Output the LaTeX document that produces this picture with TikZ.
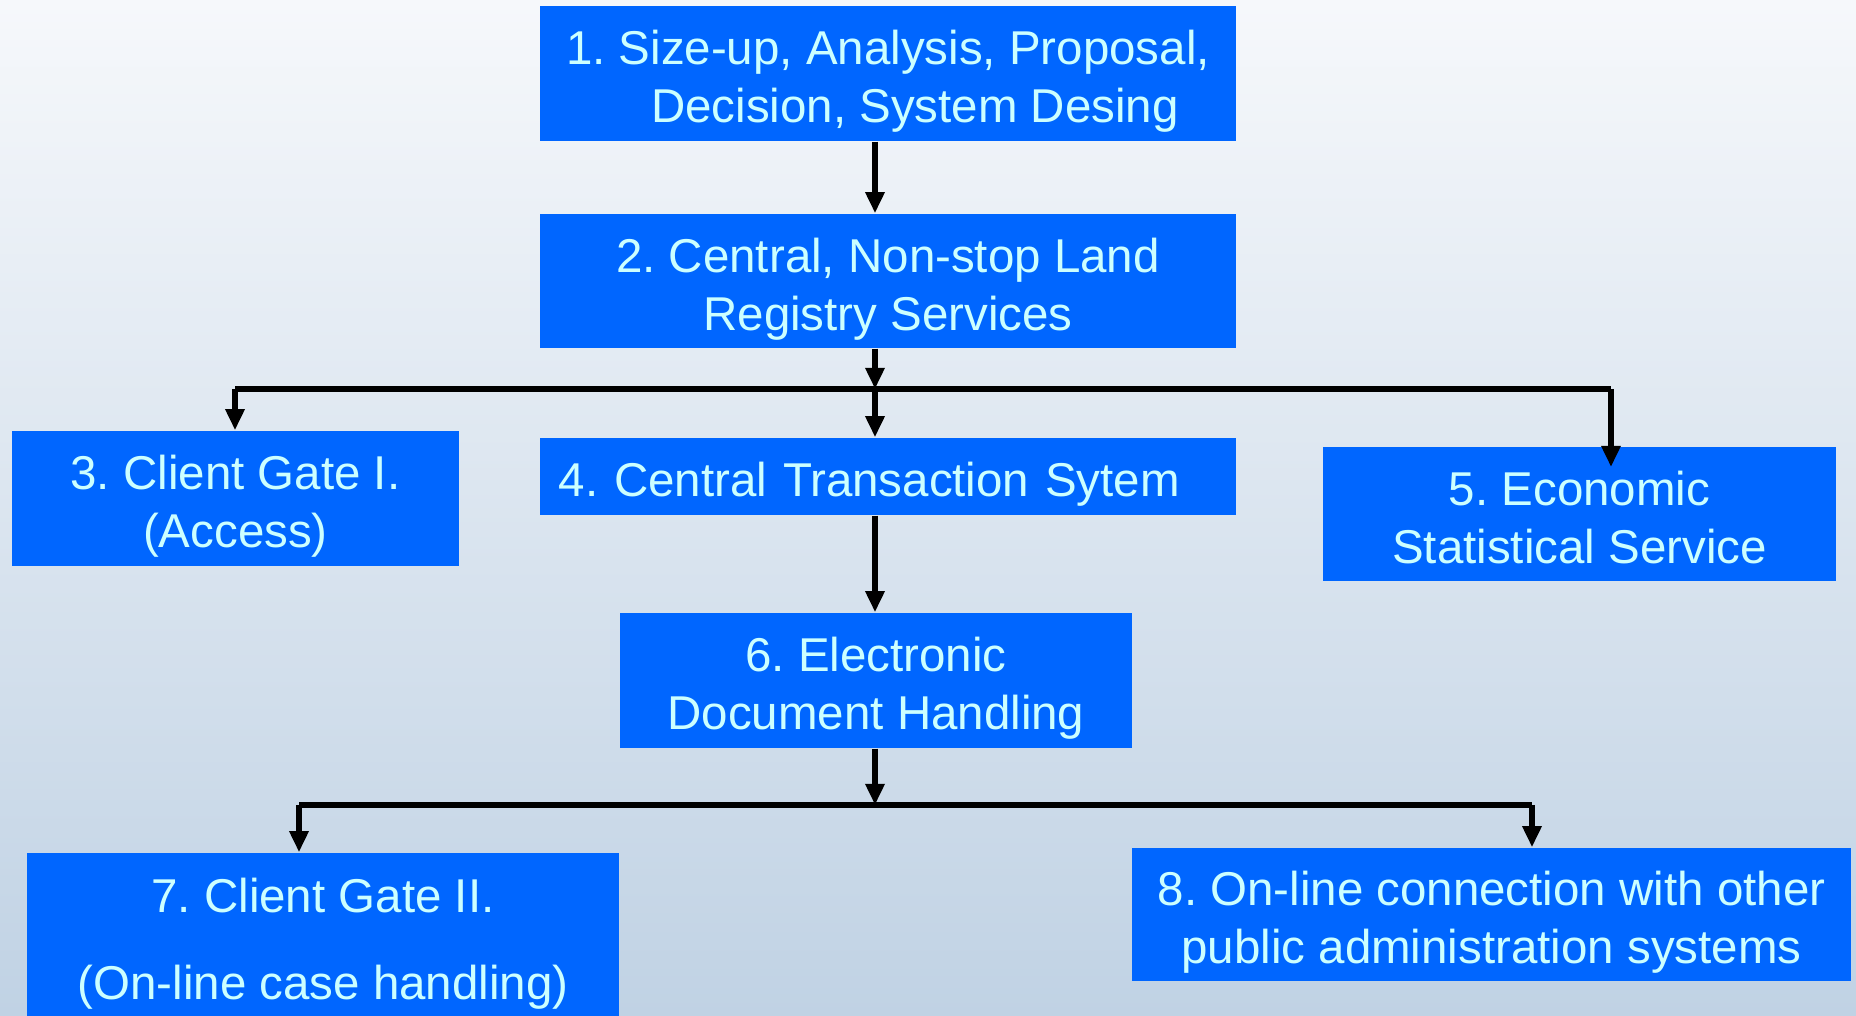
\documentclass[tikz,border=0pt]{standalone}
\usepackage{fontspec}
\setmainfont{Liberation Sans}
\usetikzlibrary{arrows.meta}
\frenchspacing
\definecolor{bgtop}{RGB}{246,248,251}
\definecolor{bgbot}{RGB}{192,210,228}
\definecolor{boxblue}{RGB}{0,102,255}
\definecolor{boxtext}{RGB}{204,255,255}
\newcommand{\topstrut}{\rule{0pt}{14.5pt}}
\newcommand{\botstrut}{\rule[-3.1pt]{0pt}{3.1pt}}
\tikzset{
  stagebox/.style={fill=boxblue,text=boxtext,inner sep=0pt,align=center,
    font=\fontsize{13.5}{16.5}\selectfont},
  busline/.style={black,line width=1.55pt},
  busarrow/.style={busline,-{Triangle[width=5.2pt,length=6pt]}}
}
\begin{document}
\begin{tikzpicture}[x=0.01cm,y=-0.01cm]
\shade[top color=bgtop,bottom color=bgbot] (0,0) rectangle (1856,1016);
\useasboundingbox (0,0) rectangle (1856,1016);
\pgfmathsetmacro{\busa}{389}
\pgfmathsetmacro{\busb}{805}
\node[stagebox,minimum width=6.96cm,minimum height=1.35cm,align=left] (design) at (888,73.5)
  {\topstrut 1. Size-up, Analysis, Proposal,\\\hspace*{0.85cm}Decision, System Desing\botstrut};
\node[stagebox,minimum width=6.96cm,minimum height=1.34cm] (registry) at (888,281)
  {\topstrut 2. Central, Non-stop Land\\Registry Services\botstrut};
\node[stagebox,minimum width=4.47cm,minimum height=1.35cm] (gateone) at (235.5,498.5)
  {\topstrut 3. Client Gate I.\\(Access)\botstrut};
\node[stagebox,minimum width=6.96cm,minimum height=0.77cm,text width=6.58cm,inner xsep=0.19cm,align=left] (transaction) at (888,476.5)
  {\topstrut 4. Central Transaction Sytem\botstrut};
\node[stagebox,minimum width=5.13cm,minimum height=1.34cm] (statistics) at (1579.5,514)
  {\topstrut 5. Economic\\Statistical Service\botstrut};
\node[stagebox,minimum width=5.12cm,minimum height=1.35cm] (documents) at (876,680.5)
  {\topstrut 6. Electronic\\Document Handling\botstrut};
\node[stagebox,minimum width=5.92cm,minimum height=1.66cm,font=\fontsize{13.5}{24.5}\selectfont] (gatetwo) at (323,936)
  {\topstrut 7. Client Gate II.\\(On-line case handling)\botstrut};
\node[stagebox,minimum width=7.19cm,minimum height=1.33cm] (publicadmin) at (1491.5,914.5)
  {\topstrut 8. On-line connection with other\\public administration systems\botstrut};
\coordinate (busaleft) at (235,\busa);
\coordinate (busamid) at (875,\busa);
\coordinate (busaright) at (1611,\busa);
\coordinate (statstip) at (1611,467);
\coordinate (busbleft) at (299,\busb);
\coordinate (busbmid) at (875,\busb);
\coordinate (busbright) at (1532,\busb);
\draw[busarrow] (busamid |- design.south) -- (busamid |- registry.north);
\draw[busline] (busaleft) -- (busaright);
\draw[busarrow] (busamid |- registry.south) -- (busamid);
\draw[busarrow] (busamid) -- (busamid |- transaction.north);
\draw[busarrow] (busaleft) -- (busaleft |- gateone.north);
\draw[busarrow] (busaright) -- (statstip);
\draw[busarrow] (busamid |- transaction.south) -- (busamid |- documents.north);
\draw[busline] (busbleft) -- (busbright);
\draw[busarrow] (busbmid |- documents.south) -- (busbmid);
\draw[busarrow] (busbleft) -- (busbleft |- gatetwo.north);
\draw[busarrow] (busbright) -- (busbright |- publicadmin.north);
\end{tikzpicture}
\end{document}
